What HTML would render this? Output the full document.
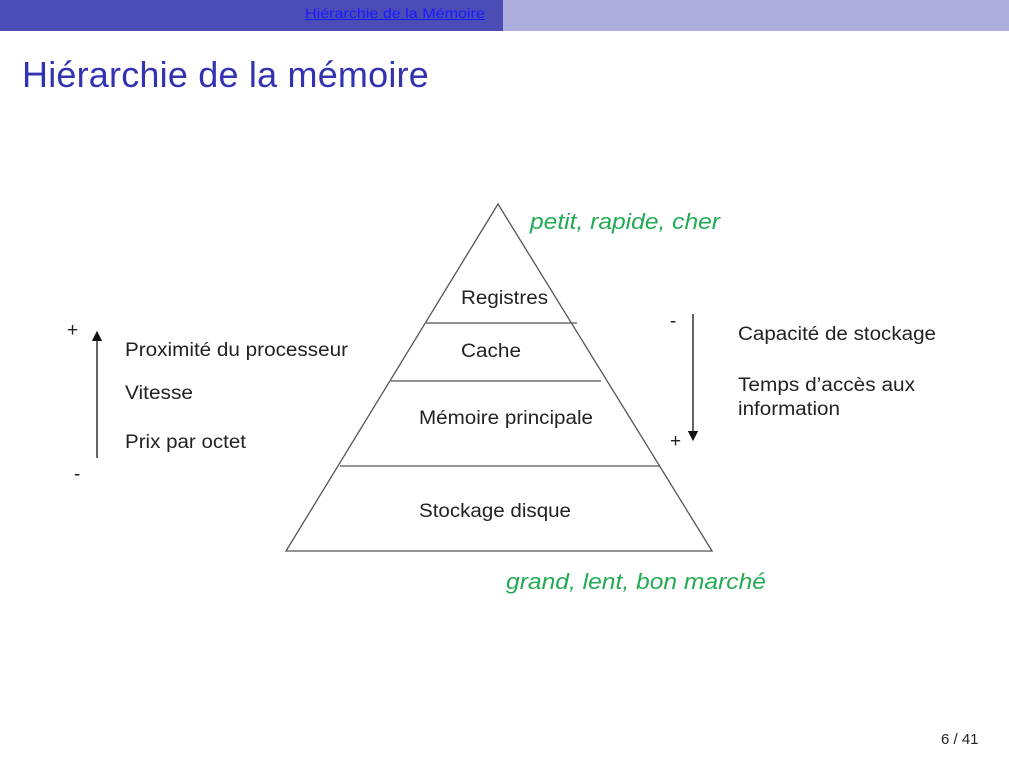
<!DOCTYPE html>
<html><head><meta charset="utf-8"><style>
body{margin:0;width:1009px;height:757px;background:#fff;overflow:hidden;position:relative;font-family:"Liberation Sans",sans-serif}
.bar1{position:absolute;left:0;top:0;width:503px;height:31px;background:#4c4cb6}
.bar2{position:absolute;left:503px;top:0;width:506px;height:31px;background:#adadde}
.nav{position:absolute;left:305px;top:5px;font-size:14px;color:#1a1aff;text-decoration:underline;transform:scaleX(1.15);transform-origin:0 0;white-space:nowrap}
.title{position:absolute;left:22px;top:54px;font-size:36px;color:#3333b2;letter-spacing:0.2px;white-space:nowrap}
.pg{position:absolute;left:941px;top:731px;font-size:15px;color:#222}
</style></head><body>
<div class="bar1"></div><div class="bar2"></div>
<div class="nav">Hiérarchie de la Mémoire</div>
<div class="title">Hiérarchie de la mémoire</div>
<svg width="1009" height="757" style="position:absolute;left:0;top:0" font-family="Liberation Sans, sans-serif">
<defs><marker id="a" markerWidth="8" markerHeight="8" refX="4" refY="4" orient="auto"><path d="M0,0 L8,4 L0,8z" fill="#111"/></marker></defs>
<polygon points="498,204 286,551 712,551" fill="none" stroke="#555" stroke-width="1.3"/>
<g stroke="#555" stroke-width="1.3">
<line x1="426" y1="323" x2="577" y2="323"/>
<line x1="391" y1="381" x2="601" y2="381"/>
<line x1="340" y1="466" x2="660" y2="466"/>
<line x1="97" y1="458" x2="97" y2="336" marker-end="url(#a)" stroke="#111"/>
<line x1="693" y1="314" x2="693" y2="436" marker-end="url(#a)" stroke="#111"/>
</g>
<g font-size="19" fill="#222">
<text x="461" y="304" textLength="87" lengthAdjust="spacingAndGlyphs">Registres</text>
<text x="461" y="357" textLength="60" lengthAdjust="spacingAndGlyphs">Cache</text>
<text x="419" y="424" textLength="174" lengthAdjust="spacingAndGlyphs">Mémoire principale</text>
<text x="419" y="517" textLength="152" lengthAdjust="spacingAndGlyphs">Stockage disque</text>
<text x="125" y="356" textLength="223" lengthAdjust="spacingAndGlyphs">Proximité du processeur</text>
<text x="125" y="399" textLength="68" lengthAdjust="spacingAndGlyphs">Vitesse</text>
<text x="125" y="448" textLength="121" lengthAdjust="spacingAndGlyphs">Prix par octet</text>
<text x="738" y="340" textLength="198" lengthAdjust="spacingAndGlyphs">Capacité de stockage</text>
<text x="738" y="391" textLength="177" lengthAdjust="spacingAndGlyphs">Temps d’accès aux</text>
<text x="738" y="415" textLength="102" lengthAdjust="spacingAndGlyphs">information</text>
<text x="67" y="336">+</text>
<text x="74" y="480">-</text>
<text x="670" y="327">-</text>
<text x="670" y="447">+</text>
</g>
<g font-size="22" font-style="italic" fill="#22aa55">
<text x="530" y="229" textLength="190" lengthAdjust="spacingAndGlyphs">petit, rapide, cher</text>
<text x="506" y="589" textLength="260" lengthAdjust="spacingAndGlyphs">grand, lent, bon marché</text>
</g>
</svg>
<div class="pg">6 / 41</div>
</body></html>
